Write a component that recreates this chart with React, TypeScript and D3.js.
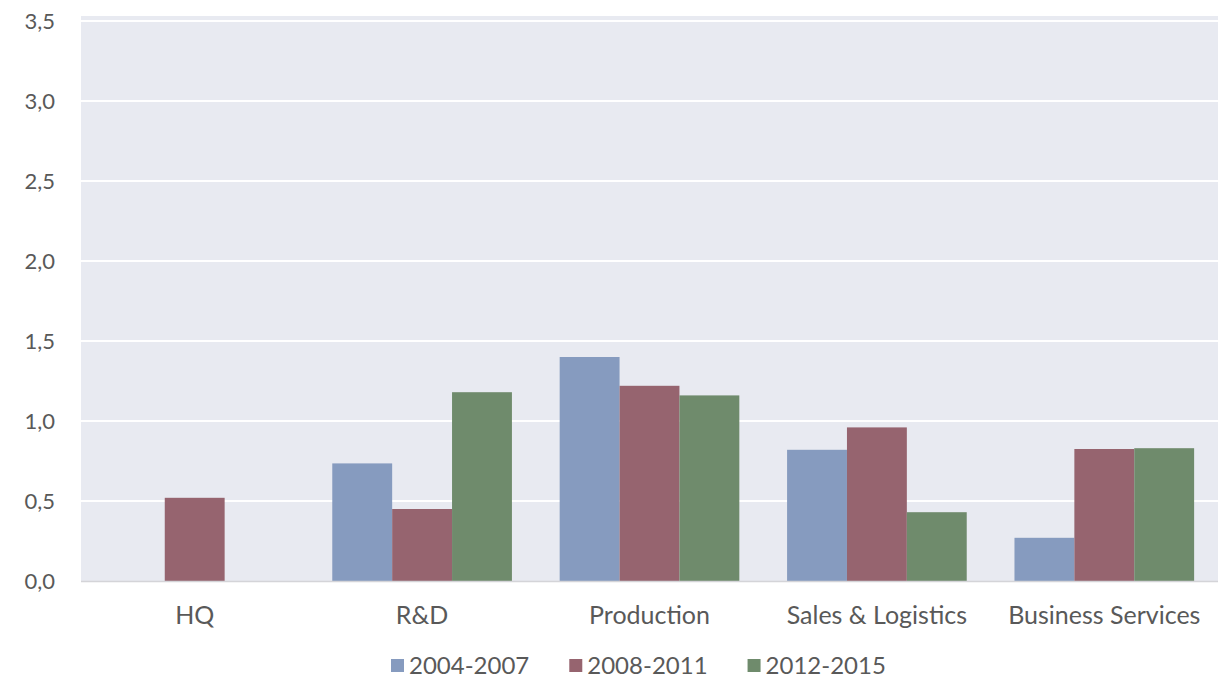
import React, { useEffect, useRef } from 'react';
import * as d3 from 'd3';

const categories = ['HQ', 'R&D', 'Production', 'Sales & Logistics', 'Business Services'];
const seriesNames = ['2004-2007', '2008-2011', '2012-2015'];
const values2004 = [0, 0.735, 1.4, 0.82, 0.27];
const values2008 = [0.52, 0.45, 1.22, 0.96, 0.825];
const values2012 = [0, 1.18, 1.16, 0.43, 0.83];
const colors = ['#869bbf', '#96646f', '#6f8b6c'];
const yTicks = [0, 0.5, 1, 1.5, 2, 2.5, 3, 3.5];

const W = 1227;
const H = 688;

export default function App() {
  const svgRef = useRef<SVGSVGElement>(null);

  useEffect(() => {
    if (!svgRef.current) return;
    const svg = d3.select(svgRef.current);
    svg.selectAll('*').remove();

    const margin = { top: 16, right: 9, bottom: 107, left: 81 };
    const plotW = W - margin.left - margin.right;
    const zeroY = 581;

    const font = "Lato, 'Open Sans', sans-serif";
    const allSeries = [values2004, values2008, values2012];

    const x0 = d3.scaleBand()
      .domain(categories)
      .range([margin.left, W - margin.right])
      .paddingInner(0.21)
      .paddingOuter(0.105);

    const x1 = d3.scaleBand()
      .domain(seriesNames)
      .range([0, x0.bandwidth()]);

    const y = d3.scaleLinear().domain([0, 3.5]).range([zeroY, zeroY - 560]);

    // plot background
    svg.append('rect')
      .attr('x', margin.left)
      .attr('y', margin.top)
      .attr('width', plotW)
      .attr('height', zeroY - margin.top)
      .attr('fill', '#e8eaf1');

    // gridlines
    svg.append('g')
      .selectAll('line')
      .data(yTicks.filter(t => t > 0))
      .join('line')
      .attr('x1', margin.left)
      .attr('x2', W - margin.right)
      .attr('y1', d => y(d))
      .attr('y2', d => y(d))
      .attr('stroke', '#ffffff')
      .attr('stroke-width', 2);

    // y labels
    svg.append('g')
      .selectAll('text')
      .data(yTicks)
      .join('text')
      .attr('x', 55)
      .attr('y', d => y(d))
      .attr('dy', '0.36em')
      .attr('text-anchor', 'end')
      .style('font-family', font)
      .style('font-size', '22px')
      .style('fill', '#595959')
      .text(d => d3.format('.1f')(d).replace('.', ','));

    // bars
    const groups = svg.append('g')
      .selectAll('g')
      .data(categories)
      .join('g')
      .attr('transform', d => `translate(${x0(d)},0)`);

    groups.selectAll('rect')
      .data((_, i) => allSeries.map((s, k) => ({ key: seriesNames[k], value: s[i], color: colors[k] })))
      .join('rect')
      .attr('x', d => x1(d.key) || 0)
      .attr('y', d => y(d.value))
      .attr('width', x1.bandwidth())
      .attr('height', d => y(0) - y(d.value))
      .attr('fill', d => d.color);

    // x axis line
    svg.append('line')
      .attr('x1', margin.left)
      .attr('x2', W - margin.right)
      .attr('y1', zeroY + 0.5)
      .attr('y2', zeroY + 0.5)
      .attr('stroke', '#d4d4d8')
      .attr('stroke-width', 1.5);

    // category labels
    svg.append('g')
      .selectAll('text')
      .data(categories)
      .join('text')
      .attr('x', d => (x0(d) || 0) + x0.bandwidth() / 2)
      .attr('y', 624)
      .attr('text-anchor', 'middle')
      .style('font-family', font)
      .style('font-size', '25px')
      .style('fill', '#595959')
      .text(d => d);

    // legend, laid out left to right
    const legend = svg.append('g');
    let lx = 391;
    const ly = 665;
    seriesNames.forEach((name, i) => {
      legend.append('rect')
        .attr('x', lx)
        .attr('y', ly - 6)
        .attr('width', 13)
        .attr('height', 13)
        .attr('fill', colors[i]);
      const t = legend.append('text')
        .attr('x', lx + 18)
        .attr('y', ly)
        .attr('dy', '0.36em')
        .style('font-family', font)
        .style('font-size', '24px')
        .style('fill', '#595959')
        .text(name);
      const len = (t.node() as SVGTextElement).getComputedTextLength();
      lx += 18 + len + 40;
    });
  }, []);

  return (
    <div style={{ position: 'fixed', left: 0, top: 0, width: W, height: H, background: '#fff' }}>
      <svg ref={svgRef} width={W} height={H} />
    </div>
  );
}
